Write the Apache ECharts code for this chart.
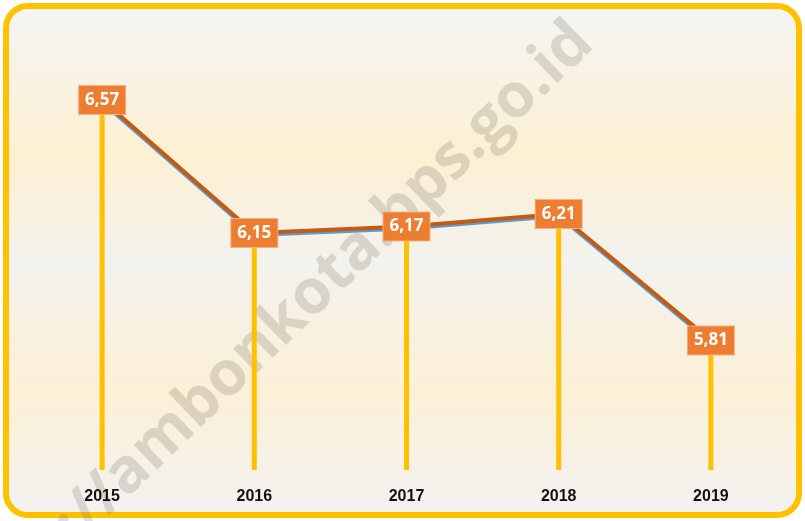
<!DOCTYPE html>
<html>
<head>
<meta charset="utf-8">
<script src="https://cdn.jsdelivr.net/npm/echarts@6/dist/echarts.min.js"></script>
<style>
  html, body { margin: 0; padding: 0; background: #ffffff; }
  #chart { width: 805px; height: 521px; }
</style>
</head>
<body>
<div id="chart"></div>
<script>
    // data
    var years = ["2015", "2016", "2017", "2018", "2019"];
    var values = [6.57, 6.15, 6.17, 6.21, 5.81];

    var chart = echarts.init(document.getElementById("chart"));

    var option = {
        animation: false,
        grid: { left: 26, right: 18, top: 59, bottom: 51 },
        graphic: [
            {
                type: "rect",
                z: -10,
                shape: { x: 6, y: 6, width: 793, height: 509, r: 22 },
                style: {
                    fill: new echarts.graphic.LinearGradient(0, 0, 0, 1, [
                        { offset: 0, color: "#f3f5f4" },
                        { offset: 0.3, color: "#fdf0d2" },
                        { offset: 0.5, color: "#f3f2ee" },
                        { offset: 0.75, color: "#fcf0d6" },
                        { offset: 1, color: "#f2f2f2" }
                    ]),
                    stroke: "#FFC000",
                    lineWidth: 6
                }
            },
            {
                // watermark
                type: "text",
                z: -5,
                x: 276,
                y: 330,
                rotation: Math.PI / 180 * 44,
                style: {
                    text: "http://ambonkota.bps.go.id",
                    font: "bold 62px 'Open Sans', sans-serif",
                    fill: "rgba(120,115,100,0.24)",
                    align: "center",
                    verticalAlign: "middle"
                }
            }
        ],
        xAxis: {
            type: "category",
            data: years,
            axisLine: { show: false },
            axisTick: { show: false },
            axisLabel: {
                margin: 19,
                color: "#111111",
                fontWeight: "bold",
                fontSize: 16,
                fontFamily: "'Liberation Sans', sans-serif"
            }
        },
        yAxis: {
            type: "value",
            min: 5.4,
            max: 6.7,
            show: false,
            splitLine: { show: false }
        },
        series: [
            {
                // drop lines
                type: "bar",
                data: values,
                barWidth: 5,
                itemStyle: { color: "#FFC000" },
                silent: true,
                z: 1
            },
            {
                type: "line",
                data: values,
                symbol: "circle",
                symbolSize: 2,
                itemStyle: { color: "#C55A11" },
                lineStyle: {
                    color: "#C55A11",
                    width: 4,
                    shadowColor: "#5B9BD5",
                    shadowOffsetY: 2,
                    shadowBlur: 0
                },
                label: {
                    show: true,
                    position: "inside",
                    formatter: function (p) {
                        return String(p.value.toFixed(2)).replace(".", ",");
                    },
                    color: "#ffffff",
                    fontWeight: "bold",
                    fontSize: 17,
                    fontFamily: "'Open Sans', sans-serif",
                    backgroundColor: "#ED7D31",
                    borderColor: "#f4b183",
                    borderWidth: 1,
                    padding: [6, 6, 5, 6]
                },
                z: 3
            }
        ]
    };

    chart.setOption(option);
</script>
</body>
</html>
